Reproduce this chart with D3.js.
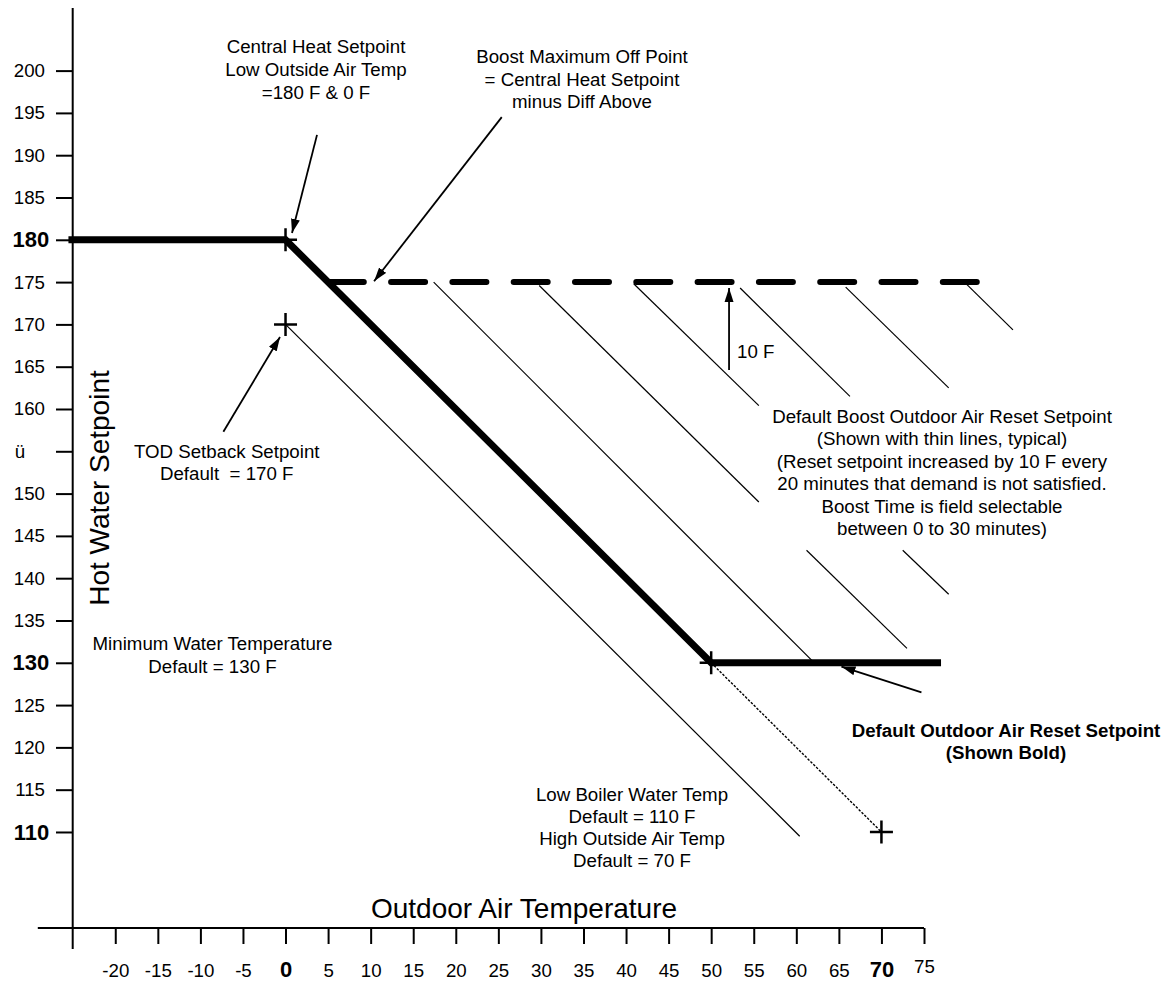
<!DOCTYPE html>
<html><head><meta charset="utf-8">
<script src="https://cdn.jsdelivr.net/npm/d3@7"></script>
<style>
body{margin:0;background:#fff}
svg text{font-family:"Liberation Sans",Arial,sans-serif;fill:#000;white-space:pre}
</style></head>
<body><svg id="c" width="1168" height="983"></svg>
<script>
// ---------- data ----------
const xTicks = [-20,-15,-10,-5,0,5,10,15,20,25,30,35,40,45,50,55,60,65,70,75];
const xTickLabels = ["-20","-15","-10","-5","0","5","10","15","20","25","30","35","40","45","50","55","60","65","70","75"];
const xBoldTicks = [0,70];
const yTicks = [200,195,190,185,180,175,170,165,160,155,150,145,140,135,130,125,120,115,110];
const yTickLabels = ["200","195","190","185","180","175","170","165","160","ü","150","145","140","135","130","125","120","115","110"];
const yBoldTicks = [180,130,110];

// Default outdoor air reset setpoint (bold)
const resetX = [-25.5, 0, 50, 77];
const resetY = [180, 180, 130, 130];
// Extension to low boiler water temp (dotted)
const lowLimitX = [50, 70];
const lowLimitY = [130, 110];
// Boost maximum off point (dashed)
const boostMaxX = [5.2, 81.2];
const boostMaxY = [175, 175];
// TOD setback line (thin)
const setbackX = [0, 60.4];
const setbackY = [170, 109.5];
// Boost reset lines (thin segments)
const boostX1 = [17.4, 29.8, 61.2, 40.9, 72.5, 53.4, 65.8, 80.05];
const boostY1 = [175, 174.6, 143.3, 174.8, 143.3, 174.3, 174.4, 174.7];
const boostX2 = [62, 55.6, 73.0, 55.6, 77.9, 66.3, 77.9, 85.45];
const boostY2 = [130.1, 149, 131.7, 160.4, 138.1, 161.5, 162.5, 169.35];
// Set points marked with crosses
const markerX = [0, 0, 50, 70];
const markerY = [180, 170, 130, 110];
// Annotation arrows (tail -> tip), data units
const arrowFromX = [3.7, 25.4, -7.3, 52.1, 74.7];
const arrowFromY = [192.4, 194.5, 157.3, 164.6, 126.5];
const arrowToX = [0.76, 10.4, -0.65, 52.1, 65.3];
const arrowToY = [180.8, 175.1, 168.5, 174.3, 129.55];

// ---------- chart ----------
const svg = d3.select("#c");
const x = d3.scaleLinear().domain([-25, 75]).range([72.7, 924]);
const y = d3.scaleLinear().domain([98.65, 207.4]).range([928, 8]);
const FS = 18.7;

const defs = svg.append("defs");
defs.append("marker").attr("id","ah").attr("markerUnits","userSpaceOnUse")
  .attr("viewBox","0 0 14 10").attr("refX",14).attr("refY",5)
  .attr("markerWidth",14).attr("markerHeight",10).attr("orient","auto")
  .append("path").attr("d","M0,0.5L14,5L0,9.5Z").attr("fill","#000");

const line = d3.line().x(d=>x(d[0])).y(d=>y(d[1]));
const pts = (xs, ys) => xs.map((v,i)=>[v, ys[i]]);

// axes
const yAx = svg.append("g").attr("transform",`translate(${x(-25)},0)`)
  .call(d3.axisLeft(y).tickValues(yTicks).tickSize(16.7).tickPadding(11)
    .tickFormat((d,i)=>yTickLabels[yTicks.indexOf(d)]));
yAx.select(".domain").remove();
yAx.selectAll(".tick line").attr("stroke","#000").attr("stroke-width",2);
yAx.selectAll(".tick text").attr("fill","#000")
  .style("font-family",'"Liberation Sans",Arial,sans-serif')
  .style("font-size", d=>yBoldTicks.includes(d)?"22px":FS+"px")
  .style("font-weight", d=>yBoldTicks.includes(d)?"bold":"normal")
  .attr("x", d=>yBoldTicks.includes(d)?-23.5:-27.7);
yAx.selectAll(".tick text").filter(d=>yTickLabels[yTicks.indexOf(d)]==="ü")
  .attr("text-anchor","start").attr("x",-58);

const xAx = svg.append("g").attr("transform",`translate(0,${y(98.65)})`)
  .call(d3.axisBottom(x).tickValues(xTicks).tickSize(16)
    .tickFormat(d=>xTickLabels[xTicks.indexOf(d)]));
xAx.select(".domain").remove();
xAx.selectAll(".tick line").attr("stroke","#000").attr("stroke-width",2);
xAx.selectAll(".tick text").attr("fill","#000").attr("dy",0)
  .style("font-family",'"Liberation Sans",Arial,sans-serif')
  .style("font-size", d=>xBoldTicks.includes(d)?"22px":FS+"px")
  .style("font-weight", d=>xBoldTicks.includes(d)?"bold":"normal")
  .attr("y", d=>d===75?45:49);

// axis lines
svg.append("line").attr("x1",x(-25)).attr("x2",x(-25)).attr("y1",y(207.4)).attr("y2",y(98.65)+21)
  .attr("stroke","#000").attr("stroke-width",2);
svg.append("line").attr("x1",x(-29.1)).attr("x2",x(75)).attr("y1",y(98.65)).attr("y2",y(98.65))
  .attr("stroke","#000").attr("stroke-width",2);

// axis titles
svg.append("text").attr("transform","translate(109,488) rotate(-90)")
  .attr("text-anchor","middle").style("font-size","28px").text("Hot Water Setpoint");
svg.append("text").attr("x",524).attr("y",918)
  .attr("text-anchor","middle").style("font-size","28px").text("Outdoor Air Temperature");

// thin boost lines
svg.append("g").selectAll("path").data(boostX1.map((v,i)=>[[v,boostY1[i]],[boostX2[i],boostY2[i]]]))
  .join("path").attr("d",line).attr("fill","none").attr("stroke","#000").attr("stroke-width",1.2);
// setback line
svg.append("path").attr("d",line(pts(setbackX,setbackY))).attr("fill","none")
  .attr("stroke","#000").attr("stroke-width",1.2);
// dotted low-limit extension
svg.append("path").attr("d",line(pts(lowLimitX,lowLimitY))).attr("fill","none")
  .attr("stroke","#000").attr("stroke-width",1.4).attr("stroke-dasharray","2.5,1.5");
// dashed boost maximum
svg.append("path").attr("d",line(pts(boostMaxX,boostMaxY))).attr("fill","none")
  .attr("stroke","#000").attr("stroke-width",6).attr("stroke-linecap","round")
  .attr("stroke-dasharray","34,27.3");
// bold reset line
svg.append("path").attr("d",line(pts(resetX,resetY))).attr("fill","none")
  .attr("stroke","#000").attr("stroke-width",7).attr("stroke-linejoin","miter");

// crosses
svg.append("g").selectAll("path").data(pts(markerX,markerY)).join("path")
  .attr("transform",d=>`translate(${x(d[0])},${y(d[1])})`)
  .attr("d","M-11.5,0H11.5M0,-11.5V11.5").attr("stroke","#000").attr("stroke-width",2.5);

// arrows
svg.append("g").selectAll("line").data(arrowFromX.map((v,i)=>i)).join("line")
  .attr("x1",i=>x(arrowFromX[i])).attr("y1",i=>y(arrowFromY[i]))
  .attr("x2",i=>x(arrowToX[i])).attr("y2",i=>y(arrowToY[i]))
  .attr("stroke","#000").attr("stroke-width",1.8).attr("marker-end","url(#ah)");

// text blocks
function block(lines, cx, base, lh, bold){
  const t = svg.append("text").attr("text-anchor","middle")
    .style("font-size",FS+"px").style("font-weight",bold?"bold":"normal");
  lines.forEach((s,i)=>t.append("tspan").attr("x",cx).attr("y",base+i*lh).text(s));
}
block(["Central Heat Setpoint","Low Outside Air Temp","=180 F & 0 F"],316,53.3,23);
block(["Boost Maximum Off Point","= Central Heat Setpoint","minus Diff Above"],582,63.3,22.5);
block(["TOD Setback Setpoint","Default  = 170 F"],226.7,458.3,21.7);
block(["Minimum Water Temperature","Default = 130 F"],212.5,650,22.7);
block(["Low Boiler Water Temp","Default = 110 F","High Outside Air Temp","Default = 70 F"],632,801,21.9);
block(["Default Boost Outdoor Air Reset Setpoint","(Shown with thin lines, typical)",
  "(Reset setpoint increased by 10 F every","20 minutes that demand is not satisfied.",
  "Boost Time is field selectable","between 0 to 30 minutes)"],942,422.7,22.5);
block(["Default Outdoor Air Reset Setpoint","(Shown Bold)"],1006,736.7,22,true);
svg.append("text").attr("x",737).attr("y",358.3).style("font-size",FS+"px").text("10 F");
</script>
</body></html>
